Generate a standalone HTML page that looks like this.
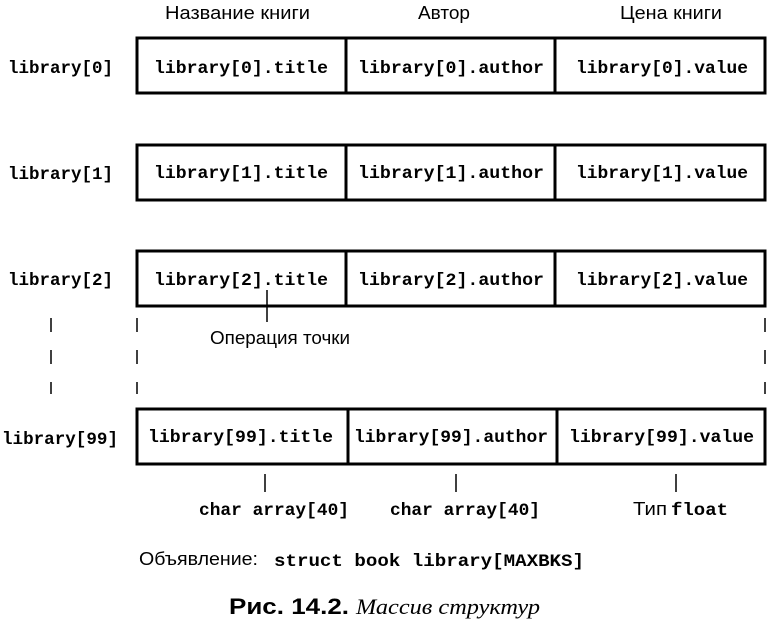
<!DOCTYPE html><html><head><style>body{margin:0;background:#fff}</style></head><body>
<svg width="769" height="626" xmlns="http://www.w3.org/2000/svg" style="display:block">
<g font-family="Liberation Sans, sans-serif" font-size="18" fill="#000" lengthAdjust="spacingAndGlyphs">
<text x="165" y="19" textLength="145" lengthAdjust="spacingAndGlyphs">Название книги</text>
<text x="418" y="19" textLength="52" lengthAdjust="spacingAndGlyphs">Автор</text>
<text x="620" y="19" textLength="102" lengthAdjust="spacingAndGlyphs">Цена книги</text>
<text x="210" y="344" textLength="140" lengthAdjust="spacingAndGlyphs">Операция точки</text>
</g>
<g fill="none" stroke="#000" stroke-width="3">
<rect x="137" y="38" width="628" height="55"/><line x1="346" y1="38" x2="346" y2="93"/><line x1="555" y1="38" x2="555" y2="93"/>
<rect x="137" y="145" width="628" height="55"/><line x1="346" y1="145" x2="346" y2="200"/><line x1="555" y1="145" x2="555" y2="200"/>
<rect x="137" y="251" width="628" height="55"/><line x1="346" y1="251" x2="346" y2="306"/><line x1="555" y1="251" x2="555" y2="306"/>
<rect x="137" y="409" width="628" height="55"/><line x1="348" y1="409" x2="348" y2="464"/><line x1="557" y1="409" x2="557" y2="464"/>
</g>
<g stroke="#000" stroke-width="1.5">
<line x1="267" y1="290" x2="267" y2="322"/>
<line x1="265" y1="474" x2="265" y2="492"/><line x1="456" y1="474" x2="456" y2="492"/><line x1="676" y1="474" x2="676" y2="492"/>
<g stroke-dasharray="14,18"><line x1="51" y1="318" x2="51" y2="394"/><line x1="137" y1="318" x2="137" y2="394"/><line x1="765" y1="318" x2="765" y2="394"/></g>
</g>
<g font-family="Liberation Mono, monospace" font-weight="bold" font-size="17.5" fill="#000">
<text x="8" y="73" textLength="105" lengthAdjust="spacingAndGlyphs">library[0]</text>
<text x="8" y="179" textLength="105" lengthAdjust="spacingAndGlyphs">library[1]</text>
<text x="8" y="285" textLength="105" lengthAdjust="spacingAndGlyphs">library[2]</text>
<text x="2" y="444" textLength="116" lengthAdjust="spacingAndGlyphs">library[99]</text>
<text x="154" y="73" textLength="174" lengthAdjust="spacingAndGlyphs">library[0].title</text>
<text x="358" y="73" textLength="186" lengthAdjust="spacingAndGlyphs">library[0].author</text>
<text x="576" y="73" textLength="172" lengthAdjust="spacingAndGlyphs">library[0].value</text>
<text x="154" y="178" textLength="174" lengthAdjust="spacingAndGlyphs">library[1].title</text>
<text x="358" y="178" textLength="186" lengthAdjust="spacingAndGlyphs">library[1].author</text>
<text x="576" y="178" textLength="172" lengthAdjust="spacingAndGlyphs">library[1].value</text>
<text x="154" y="285" textLength="174" lengthAdjust="spacingAndGlyphs">library[2].title</text>
<text x="358" y="285" textLength="186" lengthAdjust="spacingAndGlyphs">library[2].author</text>
<text x="576" y="285" textLength="172" lengthAdjust="spacingAndGlyphs">library[2].value</text>
<text x="148" y="442" textLength="185" lengthAdjust="spacingAndGlyphs">library[99].title</text>
<text x="354" y="442" textLength="194" lengthAdjust="spacingAndGlyphs">library[99].author</text>
<text x="569" y="442" textLength="185" lengthAdjust="spacingAndGlyphs">library[99].value</text>
<text x="199" y="515" textLength="150" lengthAdjust="spacingAndGlyphs">char array[40]</text>
<text x="390" y="515" textLength="150" lengthAdjust="spacingAndGlyphs">char array[40]</text>
<text x="671" y="515" textLength="57" lengthAdjust="spacingAndGlyphs">float</text>
<text x="274" y="566" textLength="310" lengthAdjust="spacingAndGlyphs">struct book library[MAXBKS]</text>
</g>
<g font-family="Liberation Sans, sans-serif" font-size="18" fill="#000">
<text x="633" y="515" textLength="34" lengthAdjust="spacingAndGlyphs">Тип</text>
<text x="139" y="565" textLength="119" lengthAdjust="spacingAndGlyphs">Объявление:</text>
<text x="229" y="614" font-weight="bold" font-size="22" textLength="120" lengthAdjust="spacingAndGlyphs">Рис. 14.2.</text>
<text x="356" y="614" font-family="Liberation Serif, serif" font-style="italic" font-size="22" textLength="184" lengthAdjust="spacingAndGlyphs">Массив структур</text>
</g>
</svg></body></html>
